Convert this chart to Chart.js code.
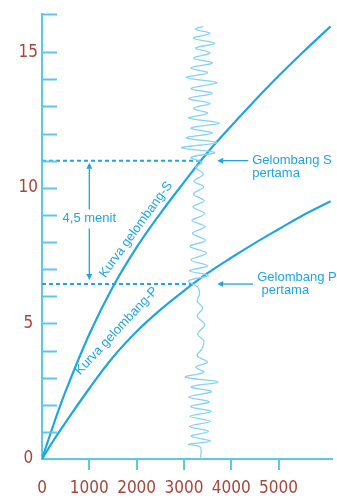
<!DOCTYPE html>
<html>
<head>
<meta charset="utf-8">
<script src="https://cdn.jsdelivr.net/npm/chart.js@4.4.1/dist/chart.umd.min.js"></script>
<style>
    html, body { margin: 0; padding: 0; background: #ffffff; }
    #chart { display: block; }
</style>
</head>
<body>
<canvas id="chart" width="337" height="499"></canvas>
<script>
"use strict";

// Travel-time curves (distance in km, time in minutes)
var distanceKm = [0, 250, 500, 1000, 1500, 2000, 2500, 3000, 3500, 4000, 4500, 5000, 5500, 6100];
var sWaveMinutes = [0, 1.3, 2.5, 4.6, 6.35, 7.8, 9.05, 10.2, 11.3, 12.28, 13.22, 14.12, 14.97, 15.95];
var pWaveMinutes = [0, 0.7, 1.35, 2.6, 3.75, 4.7, 5.5, 6.2, 6.85, 7.42, 7.96, 8.47, 8.97, 9.5];

// First arrivals read on the seismogram
var sArrival = [{ x: 0, y: 11.0 }, { x: 3360, y: 11.0 }];
var pArrival = [{ x: 0, y: 6.45 }, { x: 3195, y: 6.45 }];

// Seismogram trace, drawn upright (time up, swing sideways)
var traceMinutes = [
    0, 0.43, 0.54, 0.66, 0.84, 1.02, 1.2, 1.39, 1.57, 1.75, 1.93, 2.11, 2.29, 2.48, 2.66, 2.84, 3.02, 3.2,
    3.39, 3.57, 3.81, 4.06, 4.36, 4.6, 4.96, 5.27, 5.57, 5.82, 6.08, 6.32,
    6.57, 6.76, 6.94, 7.12, 7.34, 7.59, 7.84, 8.06, 8.32, 8.57, 8.79, 9.04, 9.3, 9.52, 9.77, 10.03, 10.24, 10.5, 10.75, 10.93,
    11.12, 11.3, 11.48, 11.66, 11.84, 12.02, 12.2, 12.39, 12.57, 12.75, 12.93, 13.11, 13.29, 13.48, 13.66, 13.88,
    14.06, 14.24, 14.42, 14.6, 14.78, 14.97, 15.15, 15.33, 15.51, 15.69, 15.84, 15.95
];
var traceDistance = [
    3350, 3350, 3100, 3560, 3150, 3520, 3120, 3560, 3130, 3580, 3140, 3540, 3100, 3580, 3150, 3720, 3030, 3420,
    3250, 3500, 3280, 3380, 3420, 3290, 3440, 3280, 3400, 3280, 3330, 3300,
    3100, 3520, 3120, 3500, 3150, 3480, 3130, 3460, 3180, 3450, 3170, 3440, 3190, 3430, 3200, 3420, 3210, 3410, 3250, 3380,
    3150, 3650, 2950, 3700, 3050, 3600, 3150, 3750, 3100, 3500, 3200, 3550, 3100, 3600, 3150, 3700,
    3050, 3500, 3150, 3600, 3200, 3550, 3250, 3650, 3200, 3550, 3250, 3400
];

var xTickValues = [0, 1000, 2000, 3000, 4000, 5000];

// Colors
var curveColor = '#1fa6e0';
var axisColor = '#5cc6f0';
var traceColor = '#88d2f1';
var labelColor = '#a4463c';
var tickFont = "'DejaVu Sans Condensed', 'Liberation Sans', sans-serif";
var noteFont = "'Liberation Sans', Arial, sans-serif";

var toPoints = function (xs, ys) {
    var pts = [];
    for (var i = 0; i < xs.length; i++) {
        pts.push({ x: xs[i], y: ys[i] });
    }
    return pts;
};

// small filled arrow head, tip at (x, y), pointing along angle
var arrowHead = function (ctx, x, y, angle) {
    ctx.save();
    ctx.translate(x, y);
    ctx.rotate(angle);
    ctx.beginPath();
    ctx.moveTo(0, 0);
    ctx.lineTo(-6, -3);
    ctx.lineTo(-6, 3);
    ctx.closePath();
    ctx.fill();
    ctx.restore();
};

// Notes, arrows and inner tick marks
var notesPlugin = {
    id: 'notes',
    afterDraw: function (chart) {
        var ctx = chart.ctx;
        var xs = chart.scales.x;
        var ys = chart.scales.y;
        var px = function (v) { return xs.getPixelForValue(v); };
        var py = function (v) { return ys.getPixelForValue(v); };

        ctx.save();

        // y tick marks inside the plot
        ctx.strokeStyle = axisColor;
        ctx.lineWidth = 2;
        ys.ticks.forEach(function (t) {
            if (t.value <= 0) return;
            var y = Math.round(py(t.value)) + 0.5;
            ctx.beginPath();
            ctx.moveTo(xs.left, y);
            ctx.lineTo(xs.left + 15, y);
            ctx.stroke();
        });

        ctx.fillStyle = curveColor;
        ctx.strokeStyle = curveColor;
        ctx.lineWidth = 1.3;
        ctx.font = '13px ' + noteFont;
        ctx.textBaseline = 'middle';

        // 4,5 menit double arrow
        var ax = px(1000);
        var yTop = py(11.0) + 2;
        var yBot = py(6.45) - 4;
        ctx.beginPath();
        ctx.moveTo(ax, yTop + 4);
        ctx.lineTo(ax, py(9.2));
        ctx.moveTo(ax, py(8.5));
        ctx.lineTo(ax, yBot - 4);
        ctx.stroke();
        arrowHead(ctx, ax, yTop, -Math.PI / 2);
        arrowHead(ctx, ax, yBot, Math.PI / 2);
        ctx.textAlign = 'center';
        ctx.fillText('4,5 menit', ax, py(8.86));

        // first arrival pointers
        ctx.textAlign = 'left';
        var sy = py(11.0);
        ctx.beginPath();
        ctx.moveTo(px(4360), sy);
        ctx.lineTo(px(3703) + 4, sy);
        ctx.stroke();
        arrowHead(ctx, px(3703), sy, Math.PI);
        ctx.fillText('Gelombang S', px(4444), sy);
        ctx.fillText('pertama', px(4444), sy + 12.5);

        var pyy = py(6.45);
        ctx.beginPath();
        ctx.moveTo(px(4460), pyy);
        ctx.lineTo(px(3703) + 4, pyy);
        ctx.stroke();
        arrowHead(ctx, px(3703), pyy, Math.PI);
        ctx.fillText('Gelombang P', px(4550), pyy - 7);
        ctx.fillText('pertama', px(4640), pyy + 6);

        // curve names, rotated along the curves
        ctx.textAlign = 'center';
        ctx.save();
        ctx.translate(px(1989), py(8.46));
        ctx.rotate(-54 * Math.PI / 180);
        ctx.fillText('Kurva gelombang-S', 0, 0);
        ctx.restore();

        ctx.save();
        ctx.translate(px(1576), py(4.72));
        ctx.rotate(-47 * Math.PI / 180);
        ctx.fillText('Kurva gelombang-P', 0, 0);
        ctx.restore();

        ctx.restore();
    }
};

var initChart = function () {
    var canvas = document.getElementById('chart');
    var ctx = canvas.getContext('2d');

    new Chart(ctx, {
        type: 'scatter',
        data: {
            datasets: [
                {
                    label: 'Seismogram',
                    data: toPoints(traceDistance, traceMinutes),
                    showLine: true,
                    borderColor: traceColor,
                    borderWidth: 1.3,
                    pointRadius: 0,
                    tension: 0.35
                },
                {
                    label: 'Gelombang S pertama',
                    data: sArrival,
                    showLine: true,
                    borderColor: curveColor,
                    borderWidth: 2,
                    borderDash: [4, 3],
                    pointRadius: 0
                },
                {
                    label: 'Gelombang P pertama',
                    data: pArrival,
                    showLine: true,
                    borderColor: curveColor,
                    borderWidth: 2,
                    borderDash: [4, 3],
                    pointRadius: 0
                },
                {
                    label: 'Kurva gelombang-S',
                    data: toPoints(distanceKm, sWaveMinutes),
                    showLine: true,
                    borderColor: curveColor,
                    borderWidth: 2.2,
                    pointRadius: 0,
                    tension: 0.4
                },
                {
                    label: 'Kurva gelombang-P',
                    data: toPoints(distanceKm, pWaveMinutes),
                    showLine: true,
                    borderColor: curveColor,
                    borderWidth: 2.2,
                    pointRadius: 0,
                    tension: 0.4
                }
            ]
        },
        options: {
            responsive: false,
            animation: false,
            devicePixelRatio: 1,
            layout: {
                padding: { left: 0, right: 5.5, top: 7.5, bottom: 0 }
            },
            plugins: {
                legend: { display: false },
                tooltip: { enabled: false },
                title: { display: false }
            },
            scales: {
                x: {
                    type: 'linear',
                    min: 0,
                    max: 6120,
                    afterBuildTicks: function (scale) {
                        scale.ticks = xTickValues.map(function (v) { return { value: v }; });
                    },
                    afterFit: function (scale) {
                        scale.height = 40;
                    },
                    border: { color: axisColor, width: 2 },
                    grid: {
                        drawOnChartArea: false,
                        tickLength: 11,
                        lineWidth: 2,
                        color: function (c) {
                            return c.tick && c.tick.value === 0 ? 'rgba(0,0,0,0)' : axisColor;
                        }
                    },
                    ticks: {
                        color: labelColor,
                        padding: 8,
                        maxRotation: 0,
                        font: { family: tickFont, size: 17 },
                        callback: function (v) {
                            return String(v);
                        }
                    }
                },
                y: {
                    type: 'linear',
                    min: 0,
                    max: 16.4,
                    afterFit: function (scale) {
                        scale.width = 42;
                    },
                    border: { color: axisColor, width: 2 },
                    grid: { drawOnChartArea: false, drawTicks: false },
                    ticks: {
                        stepSize: 1,
                        color: labelColor,
                        padding: 4,
                        crossAlign: 'center',
                        font: { family: tickFont, size: 17 },
                        callback: function (v) {
                            return v % 5 === 0 ? String(v) : '';
                        }
                    }
                }
            }
        },
        plugins: [notesPlugin]
    });
};

document.addEventListener('DOMContentLoaded', function () {
    initChart();
});
</script>
</body>
</html>
